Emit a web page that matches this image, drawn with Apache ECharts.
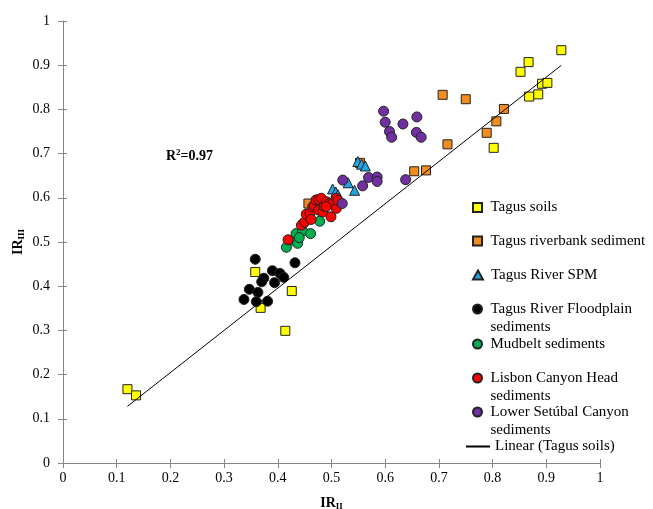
<!DOCTYPE html>
<html>
<head>
<meta charset="utf-8">
<title>IR II vs IR III</title>
<script src="https://cdn.jsdelivr.net/npm/echarts@6/dist/echarts.min.js"></script>
</head>
<body style="margin:0;background:#fff">
<div id="container" style="width:653px;height:509px;"></div>
<script type="text/javascript">
// [IR_II, IR_III] pairs
var tagusSoils = [[0.120,0.167],[0.136,0.153],[0.358,0.432],[0.368,0.351],[0.414,0.299],[0.426,0.389],[0.802,0.713],
	[0.852,0.885],[0.867,0.907],[0.868,0.829],[0.885,0.834],[0.892,0.858],[0.902,0.860],[0.928,0.934]];
var riverbank = [[0.457,0.587],[0.553,0.679],[0.654,0.660],[0.676,0.662],[0.707,0.833],[0.716,0.721],[0.750,0.823],
	[0.789,0.747],[0.807,0.773],[0.821,0.801]];
var riverSPM = [[0.502,0.620],[0.508,0.613],[0.512,0.607],[0.531,0.634],[0.543,0.617],[0.549,0.682],[0.556,0.676],[0.563,0.672]];
var floodplain = [[0.358,0.461],[0.432,0.453],[0.390,0.435],[0.404,0.429],[0.411,0.420],[0.374,0.418],[0.370,0.410],
	[0.394,0.408],[0.347,0.393],[0.363,0.386],[0.337,0.370],[0.360,0.365],[0.381,0.366]];
var mudbelt = [[0.416,0.488],[0.429,0.504],[0.434,0.519],[0.437,0.497],[0.446,0.525],[0.447,0.542],[0.461,0.519],
	[0.459,0.557],[0.478,0.547],[0.440,0.510]];
var lisbon = [[0.419,0.505],[0.444,0.538],[0.450,0.545],[0.453,0.563],[0.460,0.566],[0.462,0.551],[0.465,0.580],
	[0.468,0.583],[0.471,0.595],[0.476,0.572],[0.476,0.596],[0.481,0.599],[0.484,0.568],[0.486,0.581],[0.491,0.591],
	[0.496,0.587],[0.499,0.557],[0.502,0.587],[0.509,0.576],[0.509,0.599],[0.512,0.594],[0.490,0.580]];
var setubal = [[0.520,0.587],[0.521,0.640],[0.558,0.627],[0.569,0.646],[0.585,0.647],[0.585,0.637],[0.597,0.796],
	[0.600,0.771],[0.608,0.750],[0.612,0.737],[0.633,0.767],[0.638,0.641],[0.658,0.748],[0.659,0.783],[0.667,0.737]];

var seriesNames = ['Tagus soils','Tagus riverbank sediment','Tagus River SPM','Tagus River Floodplain sediments',
	'Mudbelt sediments','Lisbon Canyon Head sediments','Lower Setúbal Canyon sediments','Linear (Tagus soils)'];
var legendText = ['Tagus soils','Tagus riverbank sediment','Tagus River SPM','Tagus River Floodplain\nsediments',
	'Mudbelt sediments','Lisbon Canyon Head\nsediments','Lower Setúbal Canyon\nsediments','Linear (Tagus soils)'];

// least squares fit on Tagus soils
function linFit(pts){
	var n = pts.length, sx = 0, sy = 0;
	pts.forEach(function(p){ sx += p[0]; sy += p[1]; });
	var mx = sx/n, my = sy/n, sxy = 0, sxx = 0;
	pts.forEach(function(p){ sxy += (p[0]-mx)*(p[1]-my); sxx += (p[0]-mx)*(p[0]-mx); });
	var b = sxy/sxx;
	return {a: my - b*mx, b: b};
}
var fit = linFit(tagusSoils);
var xs = tagusSoils.map(function(p){ return p[0]; });
var x0 = Math.min.apply(null, xs), x1 = Math.max.apply(null, xs);
var trend = [[x0, fit.a + fit.b*x0], [x1, fit.a + fit.b*x1]];

var serif = 'Liberation Serif';
var axisGray = '#868686';
var sqIcon = 'path://M0,0L10,0L10,10L0,10Z';
var triIcon = 'path://M5,0L10,9L0,9Z';

function scatter(name, data, symbol, size, color){
	return {
		name: name, type: 'scatter', data: data, symbol: symbol, symbolSize: size,
		itemStyle: {color: color, borderColor: '#222', borderWidth: 1, opacity: 1},
		emphasis: {disabled: true}
	};
}

function fmt(v){ return String(+v.toFixed(1)); }

function valueAxis(extra){
	var ax = {
		type: 'value', min: 0, max: 1, interval: 0.1,
		splitLine: {show: false},
		axisLine: {show: true, lineStyle: {color: axisGray, width: 1}},
		axisTick: {show: true, length: 5, lineStyle: {color: axisGray}}
	};
	for (var k in extra) ax[k] = extra[k];
	return ax;
}
// second axis only for the inner half of the crossing tick marks
function innerTicks(pos){
	return {
		type: 'value', min: 0, max: 1, interval: 0.1, position: pos,
		splitLine: {show: false}, axisLine: {show: false}, axisLabel: {show: false},
		axisTick: {show: true, inside: true, length: 4, lineStyle: {color: axisGray}}
	};
}

var subRich = {
	a: {fontFamily: serif, fontSize: 14, fontWeight: 'bold', color: '#000'},
	b: {fontFamily: serif, fontSize: 9, fontWeight: 'bold', color: '#000', padding: [7, 0, 0, 0]}
};

var iconTops = [207.5, 241, 275, 309, 344, 378, 412, 446.5];
var legendIcons = [sqIcon, sqIcon, triIcon, 'circle', 'circle', 'circle', 'circle', null];
var legends = seriesNames.map(function(n, i){
	var twoLine = legendText[i].indexOf('\n') >= 0;
	var isLine = i === 7;
	var item = {name: n};
	if (legendIcons[i]) item.icon = legendIcons[i];
	var lg = {
		data: [item], orient: 'vertical', top: iconTops[i] - (twoLine ? 27 : 9),
		left: isLine ? 465 : 472, padding: 0, itemGap: 0, selectedMode: false,
		itemWidth: isLine ? 24 : 16, itemHeight: 9, symbolKeepAspect: true,
		// blank first line keeps the icon level with the first text line
		formatter: function(){ return twoLine ? '\n' + legendText[i] : legendText[i]; },
		textStyle: {fontFamily: serif, fontSize: 15, lineHeight: 18, color: '#000'}
	};
	if (isLine) lg.itemStyle = {opacity: 0};
	return lg;
});

var option = {
	animation: false,
	backgroundColor: '#fff',
	grid: {left: 63, right: 53, top: 21, bottom: 46, outerBoundsMode: 'none'},
	xAxis: [
		valueAxis({position: 'bottom', name: '{a|IR}{b|II}', nameLocation: 'middle', nameGap: 32,
			nameTextStyle: {rich: subRich},
			axisLabel: {color: '#000', fontFamily: serif, fontSize: 14, margin: 8, formatter: fmt}}),
		innerTicks('bottom')
	],
	yAxis: [
		valueAxis({position: 'left', name: '{a|IR}{b|III}', nameLocation: 'middle', nameGap: 37,
			nameMoveOverlap: false, nameTextStyle: {rich: subRich},
			axisLabel: {color: '#000', fontFamily: serif, fontSize: 14, margin: 13, formatter: fmt}}),
		innerTicks('left')
	],
	legend: legends,
	graphic: [{
		type: 'text', left: 166, top: 148,
		style: {text: '{r|R}{s|2}{r|=0.97}', rich: {
			r: {fontFamily: serif, fontSize: 14, fontWeight: 'bold', fill: '#000'},
			s: {fontFamily: serif, fontSize: 9, fontWeight: 'bold', fill: '#000', padding: [0, 0, 7, 0]}
		}}
	}],
	series: [
		scatter(seriesNames[0], tagusSoils, 'rect', 9, '#FFFF00'),
		scatter(seriesNames[1], riverbank, 'rect', 9, '#F28C1E'),
		scatter(seriesNames[2], riverSPM, 'triangle', 10, '#1FA5E3'),
		scatter(seriesNames[3], floodplain, 'circle', 10, '#000000'),
		scatter(seriesNames[4], mudbelt, 'circle', 10, '#00B050'),
		scatter(seriesNames[5], lisbon, 'circle', 10, '#FF0000'),
		scatter(seriesNames[6], setubal, 'circle', 10, '#7030A0'),
		{
			name: seriesNames[7], type: 'line', data: trend, symbol: 'none', z: 5,
			lineStyle: {color: '#000', width: 1}, itemStyle: {color: '#000'},
			emphasis: {disabled: true}
		}
	]
};

var myChart = echarts.init(document.getElementById('container'));
myChart.setOption(option);
</script>
</body>
</html>
